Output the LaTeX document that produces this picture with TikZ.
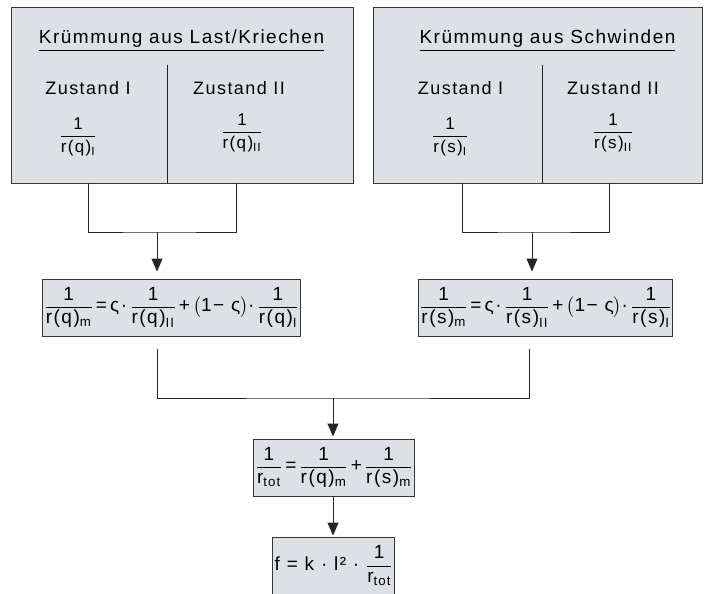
\documentclass[tikz,border=0pt]{standalone}
\usepackage{amsmath}
\usepackage{fontspec}
\setmainfont{Liberation Sans}[LetterSpace=8]
\usetikzlibrary{arrows.meta}

\definecolor{boxgrey}{RGB}{221,224,228}
\definecolor{edgegrey}{RGB}{55,55,55}

\newcommand{\rfrac}[1]{\dfrac{\text{1}}{\text{#1}}}

\begin{document}
\begin{tikzpicture}[x=1pt,y=-1pt,>={Triangle[width=11pt,length=13pt]},
  panel/.style={draw=edgegrey,fill=boxgrey,line width=0.9pt,inner sep=0pt},
  formula/.style={draw=edgegrey,fill=boxgrey,line width=0.9pt,inner sep=2pt,
    minimum height=57pt,font=\fontsize{19}{22}\selectfont},
  head/.style={anchor=base,font=\fontsize{19}{23}\selectfont},
  zustand/.style={anchor=base,font=\fontsize{18}{21}\selectfont},
  kehr/.style={font=\fontsize{17}{20}\selectfont},
  link/.style={draw=black!85,line width=0.9pt}]

\useasboundingbox (0,0) rectangle (704,594);

% Kruemmung aus Last/Kriechen
\node[panel,minimum width=342pt,minimum height=176pt] (lastbox) at (182,95) {};
\node[head] (lasttitle) at (181.5,44) {\underline{Krümmung aus Last/Kriechen}};
\coordinate (lastdiv) at (167,65);
\draw[link] (lastdiv) -- (lastdiv |- lastbox.south);
\node[zustand] (qIhead)  at (88,94)  {Zustand I};
\node[zustand] (qIIhead) at (239,94) {Zustand II};
\node[kehr] (qI)  at (78,137)  {$\rfrac{r(q)\textsubscript{I}}$};
\node[kehr] (qII) at (242,133) {$\rfrac{r(q)\textsubscript{II}}$};

% Kruemmung aus Schwinden
\node[panel,minimum width=329pt,minimum height=176pt] (schwbox) at (537.5,95) {};
\node[head] (schwtitle) at (547.5,44) {\underline{Krümmung aus Schwinden}};
\coordinate (schwdiv) at (542,65);
\draw[link] (schwdiv) -- (schwdiv |- schwbox.south);
\node[zustand] (sIhead)  at (460.5,94) {Zustand I};
\node[zustand] (sIIhead) at (613,94)   {Zustand II};
\node[kehr] (sI)  at (450,137) {$\rfrac{r(s)\textsubscript{I}}$};
\node[kehr] (sII) at (613,133) {$\rfrac{r(s)\textsubscript{II}}$};

% gemittelte Kruemmungen
\node[formula,minimum width=247pt] (qmean) at (171.5,307.5)
  {$\rfrac{r(q)\textsubscript{m}}\text{\,=\,ς·\,}\rfrac{r(q)\textsubscript{II}}\text{\,+\,}\bigl(\text{1− ς}\bigr)\text{·\,}\rfrac{r(q)\textsubscript{I}}$};
\node[formula,minimum width=245pt] (smean) at (545.5,307.5)
  {$\rfrac{r(s)\textsubscript{m}}\text{\,=\,ς·\,}\rfrac{r(s)\textsubscript{II}}\text{\,+\,}\bigl(\text{1− ς}\bigr)\text{·\,}\rfrac{r(s)\textsubscript{I}}$};

% Gesamtkruemmung und Durchbiegung
\node[formula,minimum width=160pt] (tot) at (334,467.5)
  {$\rfrac{r\textsubscript{tot}}\text{\,=\,}\rfrac{r(q)\textsubscript{m}}\text{\,+\,}\rfrac{r(s)\textsubscript{m}}$};
\node[formula,minimum width=101pt] (defl) at (333.5,565.5)
  {$\text{f = k · l² · }\rfrac{r\textsubscript{tot}}$};

% Verbindungen
\coordinate (qleft)  at (88,183);
\coordinate (qright) at (236,183);
\coordinate (qjoin)  at (157,232);
\coordinate (sleft)  at (462,183);
\coordinate (sright) at (609,183);
\coordinate (sjoin)  at (532,232);
\coordinate (qdrop)  at (157,349);
\coordinate (sdrop)  at (529,349);
\coordinate (totjoin) at (333,398);

\draw[link] (qleft) |- (qjoin) -| (qright);
\draw[link] (sleft) |- (sjoin) -| (sright);
\draw[link,->,shorten >=7pt] (qjoin) -- (qjoin |- qmean.north);
\draw[link,->,shorten >=7pt] (sjoin) -- (sjoin |- smean.north);
\draw[link] (qdrop) |- (totjoin) -| (sdrop);
\draw[link,->,shorten >=2pt] (totjoin) -- (totjoin |- tot.north);
\draw[link,->,shorten >=1pt] (tot.south -| totjoin) -- (totjoin |- defl.north);

\end{tikzpicture}
\end{document}
